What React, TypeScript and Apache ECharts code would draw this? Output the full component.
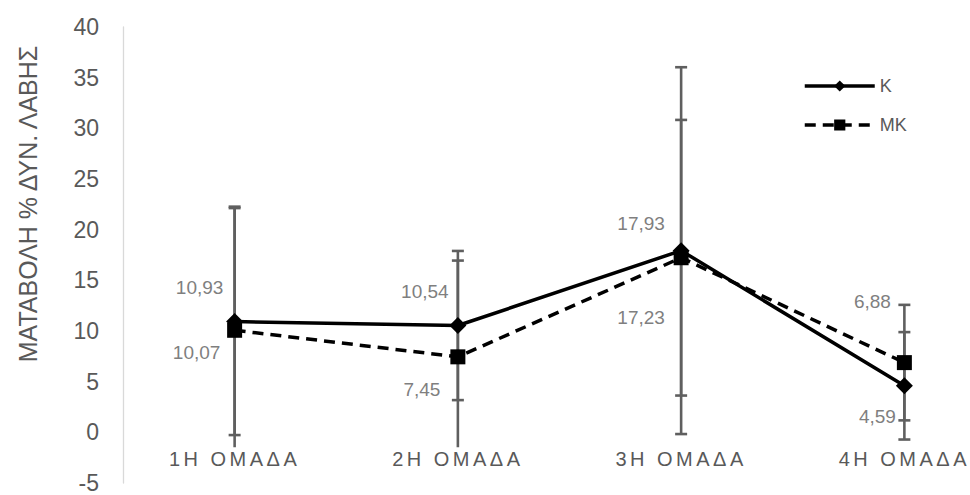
import React, { useEffect, useRef } from "react";
import * as echarts from "echarts";

// Groups along the horizontal axis
const categories = ["1Η ΟΜΑΔΑ", "2Η ΟΜΑΔΑ", "3Η ΟΜΑΔΑ", "4Η ΟΜΑΔΑ"];
// Mean change per group
const valuesK = [10.93, 10.54, 17.93, 4.59];
const valuesMK = [10.07, 7.45, 17.23, 6.88];
// Symmetric error (± value) per group
const errorsK = [11.2, 7.36, 18.1, 5.3];
const errorsMK = [12.2, 9.5, 13.6, 5.7];
// Value axis range
const yMin = -5;
const yMax = 40;
const yStep = 5;

const seriesNames = ["Κ", "ΜΚ"];
const axisTitle = "ΜΑΤΑΒΟΛΗ % ΔΥΝ. ΛΑΒΗΣ";

// Label placement relative to each marker (layout only)
const labelShiftK = [
  [-35, -34],
  [-33, -34],
  [-40, -27],
  [-27, 31],
];
const labelShiftMK = [
  [-38, 22],
  [-36, 33],
  [-40, 60],
  [-32, -61],
];

const FONT = "'Liberation Sans', Arial, sans-serif";
const AXIS_GREY = "#595959";
const LABEL_GREY = "#7f7f7f";

const GRID_TOP = 27;
const GRID_BOTTOM = 12;
const CHART_H = 495;

const fmt = (v: number) => v.toFixed(2).replace(".", ",");

function pointData(values: number[], shifts: number[][]) {
  return values.map((v, i) => ({
    value: v,
    label: { offset: shifts[i] },
  }));
}

function errorData(values: number[], errors: number[]) {
  return values.map((v, i) => [i, v, errors[i]]);
}

function renderErrorBar(params: any, api: any) {
  const x = api.value(0);
  const mean = api.value(1);
  const err = api.value(2);
  const top = api.coord([x, mean + err]);
  const bot = api.coord([x, mean - err]);
  const half = 6;
  const style = { stroke: "#5f5f5f", lineWidth: 2.6 };
  return {
    type: "group",
    children: [
      { type: "line", shape: { x1: top[0], y1: top[1], x2: bot[0], y2: bot[1] }, style },
      { type: "line", shape: { x1: top[0] - half, y1: top[1], x2: top[0] + half, y2: top[1] }, style },
      { type: "line", shape: { x1: bot[0] - half, y1: bot[1], x2: bot[0] + half, y2: bot[1] }, style },
    ],
  };
}

export default function App() {
  const ref = useRef<HTMLDivElement>(null);

  useEffect(() => {
    if (!ref.current) return;
    const chart = echarts.init(ref.current, undefined, { renderer: "svg" });

    const labelCommon = {
      show: true,
      position: "inside",
      color: LABEL_GREY,
      fontSize: 19,
      fontFamily: FONT,
      formatter: (p: any) => fmt(p.value),
    };

    // The category axis crosses the value axis at 0
    const plotH = CHART_H - GRID_TOP - GRID_BOTTOM;
    const zeroLift = (plotH * (0 - yMin)) / (yMax - yMin);

    chart.setOption({
      animation: false,
      backgroundColor: "#ffffff",
      grid: {
        left: 123,
        width: 893,
        top: GRID_TOP,
        bottom: GRID_BOTTOM,
        containLabel: false,
        outerBoundsMode: "none",
      },
      legend: {
        data: seriesNames,
        orient: "vertical",
        left: 803,
        top: 77,
        itemWidth: 70,
        itemHeight: 14,
        itemGap: 21,
        padding: 0,
        lineStyle: { width: 3.5 },
        textStyle: { fontSize: 18, color: AXIS_GREY, fontFamily: FONT },
      },
      xAxis: {
        type: "category",
        data: categories,
        boundaryGap: true,
        position: "bottom",
        offset: -zeroLift,
        z: 10,
        axisLine: { show: false, onZero: false },
        axisTick: { show: false },
        splitLine: { show: false },
        axisLabel: {
          interval: 0,
          margin: 15,
          fontSize: 20,
          color: AXIS_GREY,
          fontFamily: FONT,
          backgroundColor: "#ffffff",
          padding: [2, 2, 0, 2],
        },
      },
      yAxis: {
        type: "value",
        min: yMin,
        max: yMax,
        interval: yStep,
        axisLine: { show: true, lineStyle: { color: "#d9d9d9", width: 1.3 } },
        axisTick: { show: false },
        splitLine: { show: false },
        axisLabel: { fontSize: 23, color: AXIS_GREY, fontFamily: FONT, margin: 24 },
      },
      graphic: [
        {
          type: "text",
          x: 28,
          y: 204,
          rotation: Math.PI / 2,
          style: {
            text: axisTitle,
            fontSize: 25,
            fontFamily: FONT,
            fill: AXIS_GREY,
            align: "center",
            verticalAlign: "middle",
          },
        },
      ],
      series: [
        {
          type: "custom",
          name: "errK",
          renderItem: renderErrorBar,
          data: errorData(valuesK, errorsK),
          z: 1,
          silent: true,
        },
        {
          type: "custom",
          name: "errMK",
          renderItem: renderErrorBar,
          data: errorData(valuesMK, errorsMK),
          z: 1,
          silent: true,
        },
        {
          type: "line",
          name: seriesNames[1],
          data: pointData(valuesMK, labelShiftMK),
          symbol: "rect",
          symbolSize: 15,
          lineStyle: { color: "#000", width: 3.5, type: [11, 7] },
          itemStyle: { color: "#000" },
          label: labelCommon,
          z: 3,
        },
        {
          type: "line",
          name: seriesNames[0],
          data: pointData(valuesK, labelShiftK),
          symbol: "diamond",
          symbolSize: 17,
          lineStyle: { color: "#000", width: 3.5 },
          itemStyle: { color: "#000" },
          label: labelCommon,
          z: 4,
        },
      ],
    });

    // Spread the category labels the way the group names are set
    const texts = ref.current.querySelectorAll("text");
    texts.forEach((t) => {
      if (categories.includes((t.textContent || "").trim())) {
        t.setAttribute("letter-spacing", "3.5");
      }
    });

    return () => chart.dispose();
  }, []);

  return (
    <div
      ref={ref}
      style={{ position: "fixed", left: 0, top: 0, width: 970, height: 495 }}
    />
  );
}
